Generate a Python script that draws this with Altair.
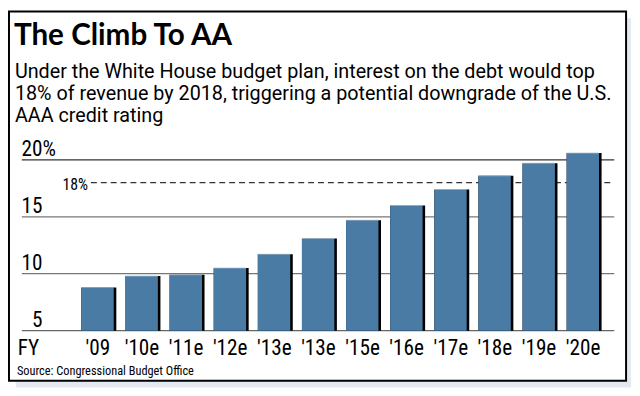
import altair as alt
import pandas as pd

years = ["'09", "'10e", "'11e", "'12e", "'13e", "'13e", "'15e", "'16e", "'17e", "'18e", "'19e", "'20e"]
values = [8.8, 9.8, 9.9, 10.5, 11.7, 13.1, 14.7, 16.0, 17.4, 18.6, 19.7, 20.6]
tick_values = [20, 15, 10, 5]
tick_labels = ["20", "15", "10", "5"]
threshold = 18

title_text = "The Climb To AA"
subtitle_lines = [
    "Under the White House budget plan, interest on the debt would top",
    "18% of revenue by 2018, triggering a potential downgrade of the U.S.",
    "AAA credit rating",
]
source_text = "Source: Congressional Budget Office"

COND = "Liberation Sans Narrow, Roboto Condensed, DejaVu Sans Condensed, sans-serif"
BLUE = "#4a7ba5"

bars = pd.DataFrame({"i": list(range(len(years))), "label": years, "value": values})
ticks = pd.DataFrame({"v": tick_values, "label": tick_labels,
                      "color": ["#333333", "#777777", "#777777", "#666666"]})
subs = pd.DataFrame({"line": subtitle_lines, "n": list(range(len(subtitle_lines)))})

W, H = 632, 388
xs = alt.Scale(domain=[0, 11], range=[87, 588.5])
ys = alt.Scale(domain=[5, 20], range=[324.3, 151.3])

shadow = alt.Chart(pd.DataFrame({"a": [0]})).mark_rect(color="#e3e9f1").encode(
    x=alt.value(8), x2=alt.value(631), y=alt.value(8), y2=alt.value(382))
frame = alt.Chart(pd.DataFrame({"a": [0]})).mark_rect(
    fill="white", stroke="black", strokeWidth=2).encode(
    x=alt.value(1), x2=alt.value(626), y=alt.value(1), y2=alt.value(375))

title = alt.Chart(pd.DataFrame({"t": [title_text]})).mark_text(
    align="left", baseline="alphabetic", font="Lato", fontWeight="bold", fontSize=30,
    color="black").encode(x=alt.value(6), y=alt.value(35), text="t:N")

subtitle = alt.Chart(subs).mark_text(
    align="left", baseline="alphabetic", font="Roboto", fontSize=20, color="black").encode(
    x=alt.value(7),
    y=alt.Y("n:Q", scale=alt.Scale(domain=[0, 2], range=[68, 113]), axis=None),
    text="line:N")

grid = alt.Chart(ticks).mark_rule(strokeWidth=1.3).encode(
    y=alt.Y("v:Q", scale=ys, axis=None),
    x=alt.value(14), x2=alt.value(614),
    color=alt.Color("color:N", scale=None))

ylab = alt.Chart(ticks).mark_text(
    align="right", baseline="alphabetic", font=COND, fontSize=21.5, dy=-4, color="black").encode(
    y=alt.Y("v:Q", scale=ys, axis=None), x=alt.value(35), text="label:N")
pct = alt.Chart(ticks[ticks.v == 20]).mark_text(
    align="left", baseline="alphabetic", font=COND, fontSize=21.5, dy=-4, color="black").encode(
    y=alt.Y("v:Q", scale=ys, axis=None), x=alt.value(35), text=alt.value("%"))

thr = pd.DataFrame({"v": [threshold], "label": [f"{threshold}%"]})
dash = alt.Chart(thr).mark_rule(strokeDash=[6, 4], color="#333333", strokeWidth=1.2).encode(
    y=alt.Y("v:Q", scale=ys, axis=None), x=alt.value(84), x2=alt.value(614))
dashlab = alt.Chart(thr).mark_text(
    align="right", baseline="alphabetic", font=COND, fontSize=16, dy=7, color="black").encode(
    y=alt.Y("v:Q", scale=ys, axis=None), x=alt.value(81), text="label:N")

bar_shadow = alt.Chart(bars).mark_bar(width=35.4, color="black").encode(
    x=alt.X("i:Q", scale=xs, axis=None),
    y=alt.Y("value:Q", scale=ys, axis=None), y2=alt.datum(5))
bar_main = alt.Chart(bars).mark_bar(width=32.8, color=BLUE, xOffset=-1.3).encode(
    x=alt.X("i:Q", scale=xs, axis=None),
    y=alt.Y("value:Q", scale=ys, axis=None), y2=alt.datum(5))
bar_top = alt.Chart(bars).mark_tick(size=32.8, thickness=1, color="#a9c0d6", xOffset=-1.3, orient="horizontal").encode(
    x=alt.X("i:Q", scale=xs, axis=None),
    y=alt.Y("value:Q", scale=ys, axis=None))

xlab = alt.Chart(bars).mark_text(
    align="center", baseline="alphabetic", font=COND, fontSize=21.5, dx=-1, color="black").encode(
    x=alt.X("i:Q", scale=xs, axis=None), y=alt.value(349), text="label:N")
fy = alt.Chart(pd.DataFrame({"t": ["FY"]})).mark_text(
    align="left", baseline="alphabetic", font=COND, fontSize=21.5, color="black").encode(
    x=alt.value(10), y=alt.value(349), text="t:N")
source = alt.Chart(pd.DataFrame({"t": [source_text]})).mark_text(
    align="left", baseline="alphabetic", font=COND, fontSize=12.5, color="black").encode(
    x=alt.value(9), y=alt.value(369), text="t:N")

chart = alt.layer(
    shadow, frame, title, subtitle, grid, dash, dashlab, ylab, pct,
    bar_shadow, bar_main, bar_top, xlab, fy, source
).resolve_scale(y="independent", color="independent").properties(
    width=W, height=H, autosize=alt.AutoSizeParams(type="none"), padding=0
).configure_view(stroke=None)

chart.save("out.html", embed_options={"renderer": "svg", "actions": False})
